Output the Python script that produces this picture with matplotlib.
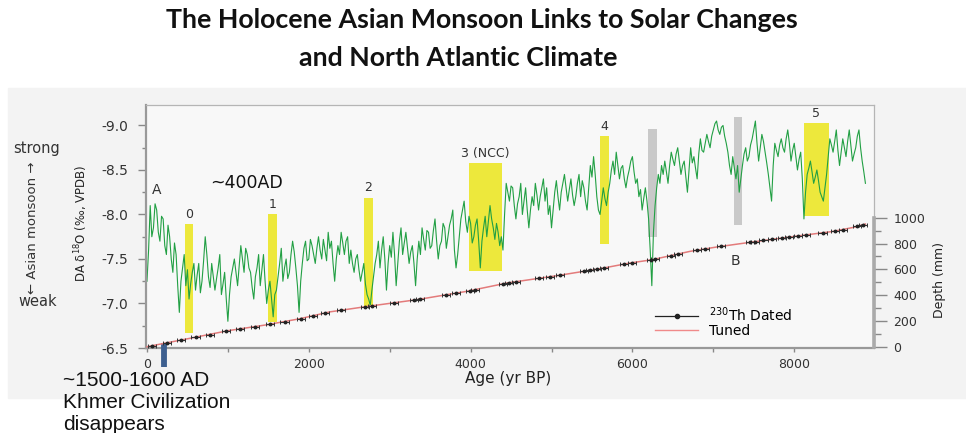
import matplotlib.pyplot as plt
import numpy as np
from matplotlib.lines import Line2D
from matplotlib.patches import Rectangle
from matplotlib.ticker import MultipleLocator, FormatStrFormatter

plt.rcParams['font.family'] = ['DejaVu Sans']
plt.rcParams['axes.unicode_minus'] = False

# stalagmite d18O record, one value every 20 yr starting at 0 yr BP
AGE_STEP = 20
d18o = [
    # 0 - 1260
    -7.25, -7.60, -8.10, -7.75, -7.85, -8.12, -8.05, -7.80, -7.70, -7.98, -7.95, -7.65, -7.55, -7.88, -7.75, -7.50,
    -7.35, -7.68, -7.55, -7.20, -6.90, -7.25, -7.40, -7.55, -7.20, -7.38, -7.05, -7.22, -7.35, -7.45, -7.15, -7.32,
    -7.45, -7.12, -7.25, -7.48, -7.75, -7.55, -7.30, -7.18, -7.45, -7.30, -7.15, -7.28, -7.40, -7.55, -7.10, -7.22,
    -7.35, -7.05, -6.80, -7.10, -7.30, -7.40, -7.50, -7.35, -7.20, -7.42, -7.65, -7.50, -7.35, -7.62, -7.55, -7.40,
    # 1280 - 2500
    -7.35, -7.18, -7.05, -7.30, -7.40, -7.55, -7.20, -7.38, -7.55, -7.25, -7.00, -7.15, -7.25, -7.05, -6.85, -7.10,
    -7.15, -7.30, -7.45, -7.62, -7.25, -7.40, -7.50, -7.28, -7.35, -7.55, -7.70, -7.58, -7.40, -7.20, -6.90, -7.25,
    -7.45, -7.62, -7.70, -7.48, -7.50, -7.72, -7.65, -7.55, -7.45, -7.62, -7.75, -7.60, -7.50, -7.72, -7.60, -7.48,
    -7.80, -7.62, -7.70, -7.45, -7.25, -7.50, -7.65, -7.55, -7.80, -7.68, -7.55, -7.70, -7.75, -7.45,
    # 2520 - 3820
    -7.60, -7.45, -7.35, -7.50, -7.55, -7.38, -7.25, -7.35, -7.45, -7.22, -7.10, -7.05, -6.98, -7.15, -7.30, -7.45,
    -7.55, -7.70, -7.40, -7.60, -7.75, -7.50, -7.15, -7.45, -7.65, -7.52, -7.80, -7.55, -7.20, -7.45, -7.70, -7.85,
    -7.55, -7.68, -7.80, -7.62, -7.45, -7.58, -7.65, -7.45, -7.20, -7.50, -7.70, -7.55, -7.85, -7.72, -7.60, -7.82,
    -7.80, -7.62, -7.65, -7.82, -7.95, -7.70, -7.50, -7.65, -7.70, -7.90, -7.85, -7.62, -7.75, -7.88, -7.95, -8.05,
    -7.60, -7.40,
    # 3840 - 5100
    -7.55, -7.75, -7.95, -8.05, -8.15, -7.92, -7.80, -7.98, -7.90, -7.68, -7.75, -7.88, -7.95, -7.70, -7.40, -7.70,
    -7.85, -7.98, -7.75, -7.92, -8.10, -7.95, -7.85, -7.72, -7.90, -7.80, -7.65, -7.75, -7.60, -8.00, -8.35, -8.25,
    -8.15, -8.32, -8.30, -8.10, -7.95, -8.12, -8.20, -8.35, -8.00, -8.15, -8.30, -8.05, -7.85, -8.05, -8.20, -8.10,
    -8.35, -8.22, -8.05, -8.20, -8.30, -8.40, -8.15, -8.30, -8.00, -8.10, -7.85, -8.05, -8.25, -8.38, -8.20, -8.05,
    # 5120 - 6380
    -8.25, -8.35, -8.45, -8.30, -8.15, -8.28, -8.40, -8.22, -8.10, -8.20, -8.35, -8.45, -8.20, -8.38, -8.30, -8.15,
    -8.05, -8.30, -8.55, -8.42, -8.65, -8.45, -8.20, -8.05, -8.00, -8.15, -8.30, -8.18, -8.10, -8.25, -8.35, -8.50,
    -8.60, -8.45, -8.70, -8.55, -8.40, -8.52, -8.55, -8.40, -8.30, -8.42, -8.50, -8.60, -8.65, -8.48, -8.35, -8.40,
    -8.20, -8.28, -8.05, -8.18, -8.30, -8.15, -7.95, -7.60, -7.20, -7.80, -8.10, -8.30, -8.45, -8.35, -8.55, -8.45,
    # 6400 - 7660
    -8.60, -8.48, -8.35, -8.55, -8.70, -8.62, -8.55, -8.68, -8.75, -8.60, -8.45, -8.55, -8.60, -8.42, -8.25, -8.50,
    -8.75, -8.58, -8.65, -8.52, -8.40, -8.68, -8.85, -8.72, -8.70, -8.80, -8.90, -8.82, -8.75, -8.88, -8.95, -9.02,
    -9.05, -8.95, -8.90, -8.98, -9.00, -8.88, -8.80, -8.70, -8.55, -8.45, -8.65, -8.52, -8.40, -8.55, -8.25, -8.40,
    -8.55, -8.68, -8.75, -8.60, -8.65, -8.78, -8.85, -8.95, -9.05, -8.80, -8.60, -8.75, -8.90, -8.82, -8.70, -8.58,
    # 7680 - 8880
    -8.45, -8.30, -8.15, -8.55, -8.80, -8.72, -8.65, -8.78, -8.85, -8.75, -8.70, -8.85, -8.95, -8.80, -8.60, -8.72,
    -8.80, -8.65, -8.50, -8.62, -8.70, -8.40, -7.95, -8.25, -8.45, -8.52, -8.60, -8.48, -8.35, -8.42, -8.50, -8.38,
    -8.25, -8.20, -8.15, -8.30, -8.45, -8.65, -8.85, -8.78, -8.70, -8.82, -8.95, -8.72, -8.55, -8.70, -8.85, -8.75,
    -8.65, -8.82, -8.95, -8.78, -8.60, -8.68, -8.75, -8.88, -8.95, -8.75, -8.60, -8.48, -8.35,
]
ages = np.arange(len(d18o)) * AGE_STEP

# age model (depth in mm)
tuned_age = [0, 570, 1000, 1480, 1890, 2260, 2730, 3330, 3950, 4450, 5060, 5600, 5970,
             6240, 6710, 7040, 7450, 8000, 8480, 8730, 8880]
tuned_depth = [0, 70, 124, 170, 217, 270, 313, 364, 429, 494, 550, 605, 649,
               674, 739, 773, 809, 855, 894, 925, 951]
dated_age = [60, 250, 420, 600, 780, 980, 1150, 1330, 1520, 1700, 1900, 2050, 2200, 2400, 2700,
             2780, 3050, 3300, 3380, 3700, 3820, 3990, 4060, 4400, 4480, 4560, 4850, 4980, 5100,
             5400, 5480, 5560, 5650, 5900, 6000, 6230, 6280, 6480, 6560, 6800, 6900, 7100, 7450,
             7520, 7620, 7730, 7850, 7930, 8050, 8150, 8350, 8500, 8600, 8780, 8850]
dated_depth = [7, 31, 52, 73, 93, 122, 138, 155, 175, 195, 218, 241, 262, 283, 310,
               317, 340, 361, 369, 403, 415, 434, 443, 487, 497, 504, 531, 543, 554,
               585, 593, 601, 610, 641, 652, 673, 680, 707, 718, 748, 759, 778, 809,
               815, 824, 832, 842, 849, 859, 867, 883, 896, 908, 934, 945]
dated_err = 50

# weak monsoon events
event_labels = ['0', '1', '2', '3 (NCC)', '4', '5']
event_start = [470, 1495, 2680, 3980, 5600, 8115]
event_end = [570, 1605, 2790, 4390, 5710, 8425]
event_top = [-7.89, -8.00, -8.19, -8.58, -8.88, -9.03]
event_bottom = [-6.67, -6.79, -6.97, -7.36, -7.67, -7.98]
grey_start = [6195, 7250]
grey_end = [6310, 7360]
grey_top = [-8.96, -9.10]
grey_bottom = [-7.75, -7.88]
khmer_age = 210

W, H = 966, 433
fig = plt.figure(figsize=(W / 100, H / 100), dpi=100)


def fx(px):
    return px / W


def fy(py):
    return 1 - py / H


# light panel behind the chart
fig.patches.append(Rectangle((fx(8), fy(398)), fx(966) - fx(8), fy(88) - fy(398),
                             transform=fig.transFigure, color='#f3f3f3', zorder=-5))

ax = fig.add_axes([fx(146), fy(348), fx(874) - fx(146), fy(105) - fy(348)])
ax.set_facecolor('#f8f8f8')

ax.bar(event_start, np.subtract(event_bottom, event_top), bottom=event_top,
       width=np.subtract(event_end, event_start), align='edge', color='#ede83c', zorder=1)
ax.bar(grey_start, np.subtract(grey_bottom, grey_top), bottom=grey_top,
       width=np.subtract(grey_end, grey_start), align='edge', color='#c9c9c9', zorder=1)
for lab, s, e, t in zip(event_labels, event_start, event_end, event_top):
    ax.annotate(lab, ((s + e) / 2, t), xytext=(0, 7), textcoords='offset points',
                ha='center', va='center', fontsize=9, color='#333')

ax.plot(ages, d18o, color='#22a044', lw=0.8, zorder=2)

# Khmer collapse marker, runs below the axis
ax.plot([khmer_age, khmer_age], [-6.553, -6.283], color='#3d5f8f', lw=4.2,
        solid_capstyle='butt', clip_on=False, zorder=5)

ax.set_xlim(-12, 8986)
ax.set_ylim(-6.5, -9.23)
ax.xaxis.set_major_locator(MultipleLocator(2000))
ax.xaxis.set_minor_locator(MultipleLocator(1000))
ax.yaxis.set_major_locator(MultipleLocator(0.5))
ax.yaxis.set_minor_locator(MultipleLocator(0.25))
ax.yaxis.set_major_formatter(FormatStrFormatter('%.1f'))
ax.tick_params(axis='y', which='major', length=6, width=1, color='#888', pad=7,
               labelsize=10, labelcolor='#333')
ax.tick_params(axis='y', which='minor', length=3, width=1, color='#888')
ax.tick_params(axis='x', which='both', length=3, width=1, color='#888', pad=4,
               labelsize=9, labelcolor='#333')
for side in ['left', 'bottom']:
    ax.spines[side].set_color('#999')
    ax.spines[side].set_linewidth(1.6)
for side in ['top', 'right']:
    ax.spines[side].set_color('#b5b5b5')
    ax.spines[side].set_linewidth(0.9)

ax2 = ax.twinx()
ax2.plot(tuned_age, tuned_depth, color='#e37b7b', lw=1.1, zorder=2)
ax2.errorbar(dated_age, dated_depth, xerr=dated_err, fmt='o', ms=1.8, color='#222',
             ecolor='#333', elinewidth=0.8, capsize=1.3, capthick=0.7, zorder=3)
ax2.set_ylim(-10, 1874)
ax2.set_yticks([0, 200, 400, 600, 800, 1000])
ax2.set_yticks(np.arange(100, 1000, 200), minor=True)
ax2.tick_params(axis='y', which='major', length=9, width=1, color='#888', pad=5,
                labelsize=9, labelcolor='#333')
ax2.tick_params(axis='y', which='minor', length=5, width=1, color='#888')
for side in ['top', 'left', 'bottom']:
    ax2.spines[side].set_visible(False)
ax2.spines['right'].set_bounds(0, 1000)
ax2.spines['right'].set_color('#aaa')
ax2.spines['right'].set_linewidth(2.6)

handles = [Line2D([], [], color='#222', lw=0.9, marker='o', ms=3),
           Line2D([], [], color='#f08a8a', lw=1.0)]
ax2.legend(handles, ['$^{230}$Th Dated', 'Tuned'], loc='upper left',
           bbox_to_anchor=(fx(655), fy(305)), bbox_transform=fig.transFigure,
           frameon=False, fontsize=10, handlelength=3.1, handletextpad=0.8,
           labelspacing=0.0, borderpad=0, borderaxespad=0)

# axis titles and side notes
fig.text(fx(81), fy(223), 'DA δ$^{18}$O (‰, VPDB)', rotation=90, ha='center', va='center',
         fontsize=8.5, color='#222')
fig.text(fx(940), fy(280), 'Depth (mm)', rotation=90, ha='center', va='center',
         fontsize=9, color='#222')
fig.text(fx(508), fy(379), 'Age (yr BP)', ha='center', va='center', fontsize=11, color='#222')
fig.text(fx(37), fy(148), 'strong', ha='center', va='center', fontsize=10.5, color='#333')
fig.text(fx(38), fy(302), 'weak', ha='center', va='center', fontsize=10.5, color='#333')
fig.text(fx(33), fy(228), '← Asian monsoon →', rotation=90, ha='center', va='center',
         fontsize=9.5, color='#333')
fig.text(fx(157), fy(190), 'A', ha='center', va='center', fontsize=10, color='#333')
fig.text(fx(735), fy(261), 'B', ha='center', va='center', fontsize=10, color='#333')
fig.text(fx(247), fy(183), '~400AD', ha='center', va='center', fontsize=12.5, color='#111')

fig.text(fx(63), fy(381), '~1500-1600 AD', ha='left', va='center', fontsize=15,
         family='Liberation Sans', color='#111')
fig.text(fx(63), fy(403), 'Khmer Civilization', ha='left', va='center', fontsize=15,
         family='Liberation Sans', color='#111')
fig.text(fx(63), fy(424), 'disappears', ha='left', va='center', fontsize=15,
         family='Liberation Sans', color='#111')

fig.text(fx(482), fy(20), 'The Holocene Asian Monsoon Links to Solar Changes', ha='center',
         va='center', fontsize=19.3, fontweight='bold', family='Lato', color='#111')
fig.text(fx(458), fy(58), 'and North Atlantic Climate', ha='center', va='center',
         fontsize=19.3, fontweight='bold', family='Lato', color='#111')

fig.savefig('out.png', dpi=100)
